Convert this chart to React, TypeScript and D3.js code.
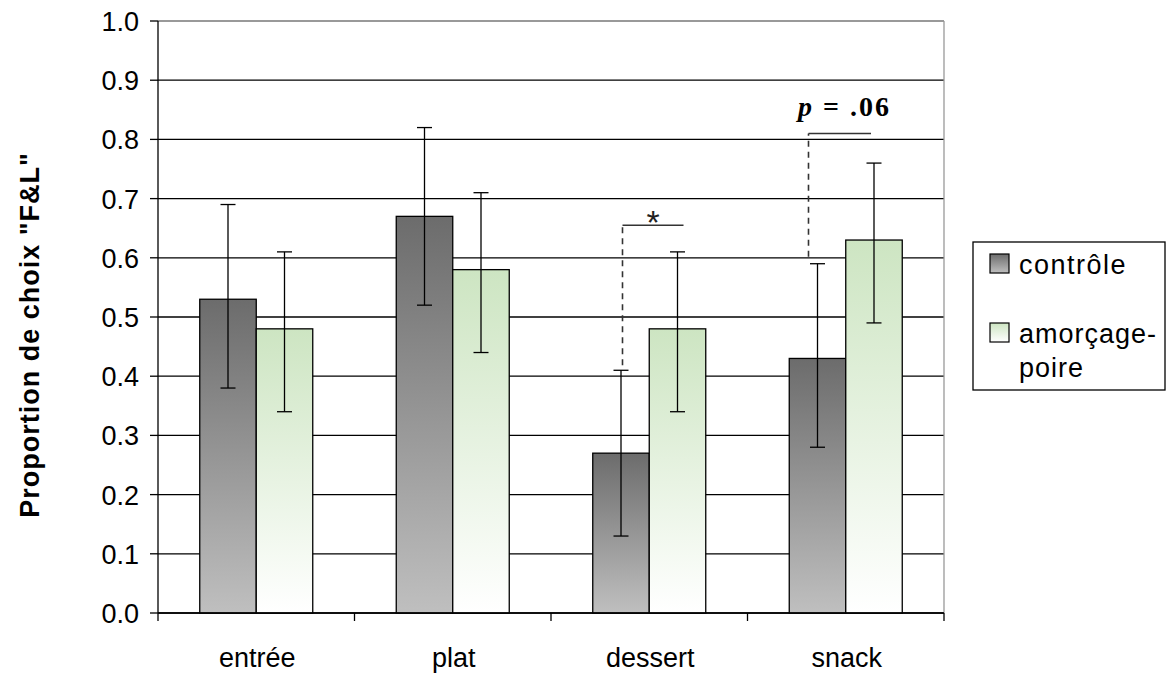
import React from "react";
import * as d3 from "d3";

const categories = ["entrée", "plat", "dessert", "snack"];
const seriesNames = ["contrôle", "amorçage-poire"];
const controlValues = [0.53, 0.67, 0.27, 0.43];
const controlLow = [0.38, 0.52, 0.13, 0.28];
const controlHigh = [0.69, 0.82, 0.41, 0.59];
const primeValues = [0.48, 0.58, 0.48, 0.63];
const primeLow = [0.34, 0.44, 0.34, 0.49];
const primeHigh = [0.61, 0.71, 0.61, 0.76];
const yTicks = [0, 0.1, 0.2, 0.3, 0.4, 0.5, 0.6, 0.7, 0.8, 0.9, 1.0];
// significance brackets: category index, bracket level, label
const brackets = [
  { cat: 2, level: 0.655, label: "*" },
  { cat: 3, level: 0.81, label: "p = .06" },
];

const W = 1166;
const H = 675;
const left = 158;
const right = 944;
const top = 21;
const bottom = 613;

export default function App() {
  const x = d3.scaleBand<string>().domain(categories).range([left, right]).paddingInner(0).paddingOuter(0);
  const y = d3.scaleLinear().domain([0, 1]).range([bottom, top]);
  const bw = 56.5;
  const series = [
    { vals: controlValues, lo: controlLow, hi: controlHigh, fill: "url(#gGray)" },
    { vals: primeValues, lo: primeLow, hi: primeHigh, fill: "url(#gGreen)" },
  ];
  const barX = (ci: number, si: number) => (x(categories[ci]) as number) + x.bandwidth() / 2 - bw + si * bw;
  const font = "Arial, 'Liberation Sans', sans-serif";
  const bracketStyle = [
    { dx0: 1.5, dx1: 6, dy0: -5 },
    { dx0: -9, dx1: -3, dy0: -7 },
  ];

  return (
    <svg width={W} height={H} style={{ position: "absolute", left: 0, top: 0 }} xmlns="http://www.w3.org/2000/svg">
      <defs>
        <linearGradient id="gGray" x1="0" y1="0" x2="0" y2="1">
          <stop offset="0" stopColor="#6c6c6c" />
          <stop offset="1" stopColor="#bfbfbf" />
        </linearGradient>
        <linearGradient id="gGreen" x1="0" y1="0" x2="0" y2="1">
          <stop offset="0" stopColor="#cde5c2" />
          <stop offset="1" stopColor="#ffffff" />
        </linearGradient>
      </defs>
      <rect x={0} y={0} width={W} height={H} fill="#fff" />
      {yTicks.map((t) => (
        <line key={t} x1={left} x2={right} y1={y(t)} y2={y(t)} stroke={t === 1 ? "#777" : "#000"} strokeWidth={1.3} />
      ))}
      <line x1={right} x2={right} y1={top} y2={bottom} stroke="#999" strokeWidth={1.3} />
      {series.map((s, si) =>
        categories.map((c, ci) => (
          <rect key={c + si} x={barX(ci, si)} y={y(s.vals[ci])} width={bw} height={bottom - y(s.vals[ci])}
            fill={s.fill} stroke="#000" strokeWidth={1.3} />
        ))
      )}
      {series.map((s, si) =>
        categories.map((c, ci) => {
          const cx = barX(ci, si) + bw / 2;
          return (
            <g key={"e" + c + si} stroke="#000" strokeWidth={1.3}>
              <line x1={cx} x2={cx} y1={y(s.lo[ci])} y2={y(s.hi[ci])} />
              <line x1={cx - 7.5} x2={cx + 7.5} y1={y(s.lo[ci])} y2={y(s.lo[ci])} />
              <line x1={cx - 7.5} x2={cx + 7.5} y1={y(s.hi[ci])} y2={y(s.hi[ci])} />
            </g>
          );
        })
      )}
      <line x1={left} x2={left} y1={top} y2={bottom} stroke="#000" strokeWidth={1.3} />
      <line x1={left} x2={right} y1={bottom} y2={bottom} stroke="#000" strokeWidth={1.3} />
      {yTicks.map((t) => (
        <g key={"t" + t}>
          <line x1={left - 8} x2={left} y1={y(t)} y2={y(t)} stroke="#000" strokeWidth={1.3} />
          <text x={left - 19} y={y(t) + 10} textAnchor="end" fontFamily={font} fontSize={27} fill="#000">
            {t.toFixed(1)}
          </text>
        </g>
      ))}
      {[...categories.map((c) => x(c) as number), right].map((v, i) => (
        <line key={"xt" + i} x1={v} x2={v} y1={bottom} y2={bottom + 8} stroke="#000" strokeWidth={1.3} />
      ))}
      {categories.map((c) => (
        <text key={"xl" + c} x={(x(c) as number) + x.bandwidth() / 2 + 1} y={667} textAnchor="middle" fontFamily={font} fontSize={27} fill="#000">
          {c}
        </text>
      ))}
      <text transform={`translate(39, 335) rotate(-90)`} textAnchor="middle" fontFamily={font} fontSize={27} fontWeight="bold" fill="#000" letterSpacing={1}>
        Proportion de choix "F&amp;L"
      </text>
      {brackets.map((b, i) => {
        const st = bracketStyle[i];
        const x0 = barX(b.cat, 0) + bw / 2 + st.dx0;
        const x1 = barX(b.cat, 1) + bw / 2 + st.dx1;
        const yb = y(b.level);
        const yStart = y(controlHigh[b.cat]) + st.dy0;
        return (
          <g key={"b" + i}>
            <line x1={x0} x2={x0} y1={yStart} y2={yb} stroke="#333" strokeWidth={1.6} strokeDasharray="6,5" />
            <line x1={x0} x2={x1} y1={yb} y2={yb} stroke="#333" strokeWidth={1.3} />
            {b.label === "*" ? (
              <text x={(x0 + x1) / 2 + 0} y={yb + 9} textAnchor="middle" fontFamily={font} fontSize={34} fill="#222">*</text>
            ) : (
              <text x={798} y={116} textAnchor="start" fontFamily="'Liberation Serif', 'Times New Roman', serif" fontSize={28} fontWeight="bold" fill="#000" letterSpacing={2}>
                <tspan fontStyle="italic">p</tspan> = .06
              </text>
            )}
          </g>
        );
      })}
      <rect x={973} y={242} width={192} height={148} fill="#fff" stroke="#000" strokeWidth={1.3} />
      <rect x={990} y={254} width={19} height={19} fill="url(#gGray)" stroke="#000" strokeWidth={1.2} />
      <text x={1019} y={274} fontFamily={font} fontSize={27} fill="#000" letterSpacing={1.5}>{seriesNames[0]}</text>
      <rect x={990} y={323} width={19} height={19} fill="url(#gGreen)" stroke="#000" strokeWidth={1.2} />
      <text x={1019} y={343} fontFamily={font} fontSize={27} fill="#000" letterSpacing={1}>{seriesNames[1].split("-")[0]}-</text>
      <text x={1019} y={377} fontFamily={font} fontSize={27} fill="#000" letterSpacing={1}>{seriesNames[1].split("-")[1]}</text>
    </svg>
  );
}
